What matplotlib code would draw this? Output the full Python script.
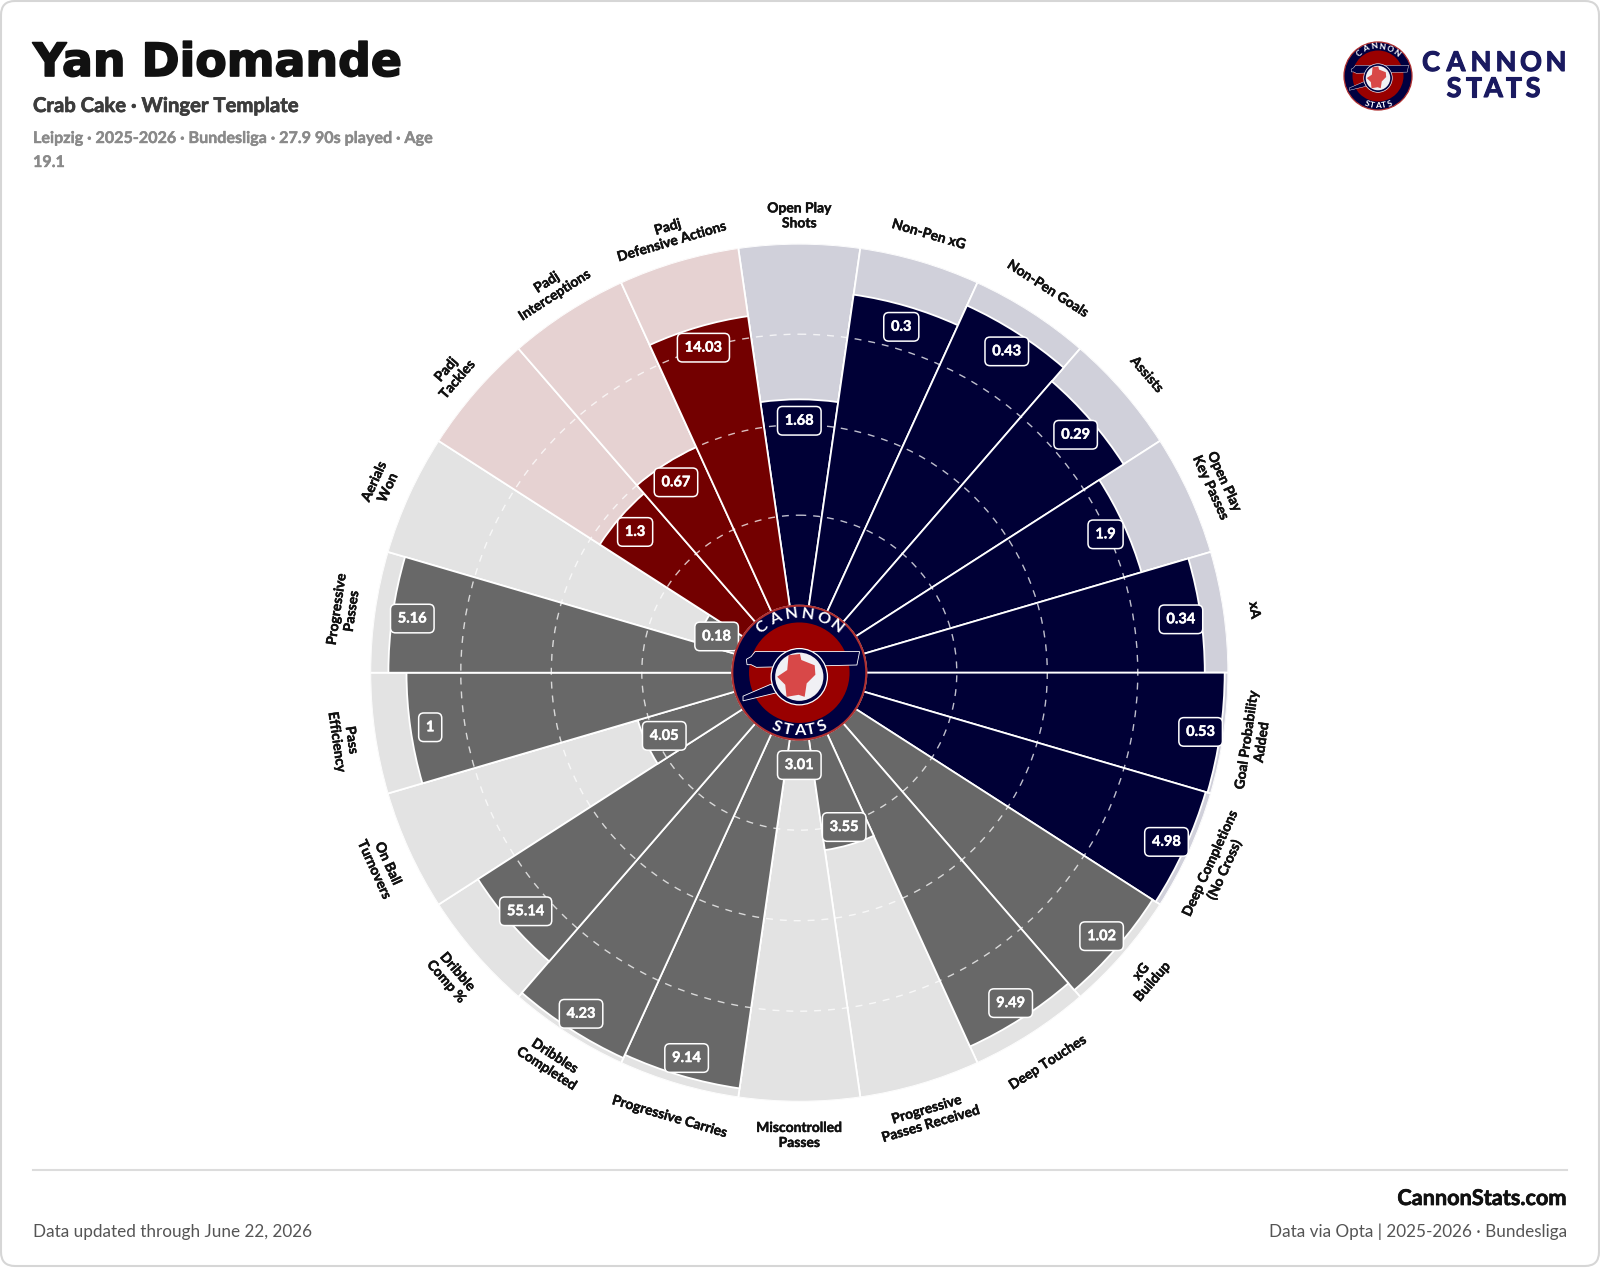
import numpy as np
import matplotlib
matplotlib.use('Agg')
import matplotlib.pyplot as plt
import matplotlib.patheffects as pe
from matplotlib.patches import Circle, Polygon, FancyBboxPatch
from matplotlib.transforms import offset_copy

# clockwise from the top
metrics = ['Open Play\nShots', 'Non-Pen xG', 'Non-Pen Goals', 'Assists', 'Open Play\nKey Passes', 'xA',
           'Goal Probability\nAdded', 'Deep Completions\n(No Cross)', 'xG\nBuildup', 'Deep Touches',
           'Progressive\nPasses Received', 'Miscontrolled\nPasses', 'Progressive Carries', 'Dribbles\nCompleted',
           'Dribble\nComp %', 'On Ball\nTurnovers', 'Pass\nEfficiency', 'Progressive\nPasses', 'Aerials\nWon',
           'Padj\nTackles', 'Padj\nInterceptions', 'Padj\nDefensive Actions']
values = ['1.68', '0.3', '0.43', '0.29', '1.9', '0.34', '0.53', '4.98', '1.02', '9.49', '3.55', '3.01',
          '9.14', '4.23', '55.14', '4.05', '1', '5.16', '0.18', '1.3', '0.67', '14.03']
percentiles = [57, 87, 93, 88, 80, 93.5, 99, 98.5, 97.5, 95, 31, 10, 97.5, 98.5, 87, 28, 90, 95, 11, 47, 50, 81]
groups = ['att'] * 8 + ['pos'] * 11 + ['def'] * 3

colors = {'att': '#000036', 'pos': '#686868', 'def': '#730000'}
light = {'att': '#d0d0da', 'pos': '#e3e3e3', 'def': '#e6d2d2'}

FONT = ['Lato', 'DejaVu Sans']
NAVY = '#000040'
W, H = 1600, 1268
CX, CY, R_IN, R_OUT = 799.3, 672.7, 67, 429


def heavy(width, color):
    # Lato stops at bold here, a thin stroke gets it closer to the original weight
    return [pe.withStroke(linewidth=width, foreground=color)]


def draw_logo(ax, cx, cy, r, z=5):
    def pts(p):
        return [(cx + a * r, cy + b * r) for a, b in p]

    ax.add_patch(Circle((cx, cy), r, fc=NAVY, ec='#b03030', lw=1.2 * r / 67 + 0.3, zorder=z))
    ax.add_patch(Circle((cx, cy), 0.75 * r, fc='#990000', ec='none', zorder=z))
    barrel = [(-0.66, -0.315), (0.90, -0.315), (0.86, -0.115), (-0.64, -0.08), (-0.72, -0.12), (-0.78, -0.12),
              (-0.79, -0.20), (-0.72, -0.24)]
    trail = [(-0.84, 0.35), (-0.42, 0.17), (-0.34, 0.30), (-0.84, 0.42)]
    for shape in (barrel, trail):
        ax.add_patch(Polygon(pts(shape), fc=NAVY, ec='white', lw=0.6 * r / 67, zorder=z + 1))
    ax.add_patch(Circle((cx, cy + 0.06 * r), 0.42 * r, fc=NAVY, ec='white', lw=0.9 * r / 67, zorder=z + 2))
    ax.add_patch(Circle((cx, cy + 0.06 * r), 0.36 * r, fc='#f0f0f4', ec='none', zorder=z + 2))
    texas = [(-0.16, -0.26), (0.01, -0.28), (0.03, -0.19), (0.23, -0.11), (0.24, 0.03), (0.11, 0.16),
             (0.08, 0.36), (-0.01, 0.33), (-0.19, 0.36), (-0.21, 0.18), (-0.33, 0.06), (-0.18, -0.04)]
    ax.add_patch(Polygon(pts(texas), fc='#d84848', ec='none', zorder=z + 3))

    size = 11.8 * r / 67
    for word, a0, a1, sign in (('CANNON', -39, 39, -1), ('STATS', 23, -23, 1)):
        for ang, ch in zip(np.linspace(a0, a1, len(word)), word):
            t = np.radians(ang)
            x, y = cx + 0.875 * r * np.sin(t), cy + sign * 0.875 * r * np.cos(t)
            ax.text(x, y, ch, color='white', fontsize=size, fontweight='bold', family=FONT,
                    ha='center', va='center', rotation=sign * ang, rotation_mode='anchor', zorder=z + 4)


fig = plt.figure(figsize=(W / 100, H / 100), dpi=100, facecolor='white')

# page frame, header and footer live in a pixel-sized axes
bg = fig.add_axes([0, 0, 1, 1], zorder=0)
bg.set_xlim(0, W)
bg.set_ylim(H, 0)
bg.axis('off')
bg.add_patch(FancyBboxPatch((1, 1), W - 2, H - 3, boxstyle='round,pad=0,rounding_size=14',
                            fc='white', ec='#d6d6d6', lw=1.5))
bg.text(33, 76, 'Yan Diomande', fontsize=33, fontweight='bold', color='#111111', family='DejaVu Sans',
        va='baseline', path_effects=heavy(1.2, '#111111'))
bg.text(33, 112, 'Crab Cake · Winger Template', fontsize=14.6, fontweight='bold', color='#3c3c3c',
        family=FONT, va='baseline', path_effects=heavy(0.5, '#3c3c3c'))
bg.text(33, 143, 'Leipzig · 2025-2026 · Bundesliga · 27.9 90s played · Age', fontsize=11.6, fontweight='bold',
        color='#8a8a8a', family=FONT, va='baseline', path_effects=heavy(0.3, '#8a8a8a'))
bg.text(33, 167, '19.1', fontsize=11.6, fontweight='bold', color='#8a8a8a', family=FONT, va='baseline',
        path_effects=heavy(0.3, '#8a8a8a'))
bg.plot([33, 1567], [1170, 1170], color='#dcdcdc', lw=1.5)
bg.text(1567, 1205, 'CannonStats.com', fontsize=15.6, fontweight='bold', color='#111111', family=FONT,
        ha='right', va='baseline', path_effects=heavy(0.5, '#111111'))
bg.text(33, 1237, 'Data updated through June 22, 2026', fontsize=12.35, color='#555555', family=FONT,
        va='baseline')
bg.text(1567, 1237, 'Data via Opta | 2025-2026 · Bundesliga', fontsize=12.3, color='#555555', family=FONT,
        ha='right', va='baseline')

# radar, 100 sits on the axes edge
ax = fig.add_axes([(CX - R_OUT) / W, 1 - (CY + R_OUT) / H, 2 * R_OUT / W, 2 * R_OUT / H],
                  polar=True, zorder=1)
ax.patch.set_alpha(0)
ax.set_theta_zero_location('N')
ax.set_theta_direction(-1)
ax.set_ylim(0, 100)
ax.set_rorigin(-100 * R_IN / (R_OUT - R_IN))
ax.set_xticks([])
ax.set_yticks([25, 50, 75])
ax.set_yticklabels([])
ax.spines['polar'].set_visible(False)
ax.set_axisbelow(False)
ax.yaxis.grid(True, color='white', alpha=0.75, ls=(0, (5, 5)), lw=1)

n = len(metrics)
theta = np.arange(n) * 2 * np.pi / n
width = 2 * np.pi / n
ax.bar(theta, [100] * n, width=width, color=[light[g] for g in groups], edgecolor='white', lw=1.3, zorder=1)
ax.bar(theta, percentiles, width=width, color=[colors[g] for g in groups], edgecolor='white', lw=1.3, zorder=1.5)

badge_tr = offset_copy(ax.transData, fig=fig, y=-1.5, units='dots')
label_tr = offset_copy(ax.transData, fig=fig, y=-3, units='dots')

for t, m, v, p, g in zip(theta, metrics, values, percentiles, groups):
    ax.text(t, max(p - 5.5, 6.6), v, color='white', fontsize=10.5, fontweight='bold', family=FONT,
            ha='center', va='center', zorder=4, transform=badge_tr, path_effects=heavy(0.3, 'white'),
            bbox=dict(boxstyle='round,pad=0.5,rounding_size=0.35', fc=colors[g], ec='white', lw=1.1))
    deg = np.degrees(t)
    rot = 180 - deg if 90 < deg < 270 else -deg
    ax.text(t, 108.5, m, color='#111111', fontsize=10, fontweight='bold', family=FONT, ha='center', va='center',
            rotation=rot, rotation_mode='anchor', linespacing=1.3, clip_on=False, transform=label_tr,
            path_effects=heavy(0.3, '#111111'))

# logos on top of everything
top = fig.add_axes([0, 0, 1, 1], zorder=2)
top.set_xlim(0, W)
top.set_ylim(H, 0)
top.axis('off')
draw_logo(top, CX, CY, R_IN)
draw_logo(top, 1378, 76, 34)
for word, x0, x1, y in (('CANNON', 1431, 1556, 63), ('STATS', 1454, 1533, 89)):
    for x, ch in zip(np.linspace(x0, x1, len(word)), word):
        top.text(x, y, ch, color='#1a1a60', fontsize=19.5, fontweight='bold', family=FONT, ha='center', va='center',
                 path_effects=heavy(0.8, '#1a1a60'))

fig.savefig('out.png', dpi=100)
